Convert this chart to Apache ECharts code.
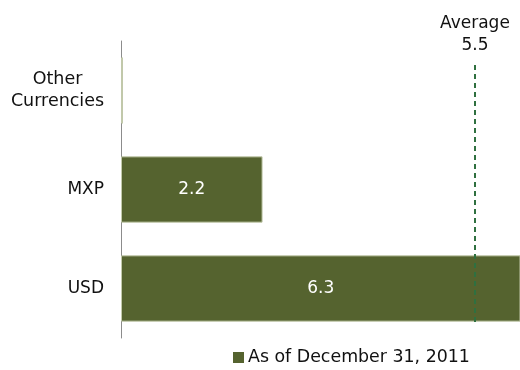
<!DOCTYPE html>
<html>
<head>
<meta charset="utf-8">
<script src="https://cdn.jsdelivr.net/npm/echarts@6/dist/echarts.min.js"></script>
<style>
  html, body { margin: 0; padding: 0; background: #fff; }
  #chart { width: 520px; height: 370px; }
</style>
</head>
<body>
<div id="chart"></div>
<script>
// Currency exposure, bottom-to-top order on the category axis
const categories = ['USD', 'MXP', 'Other Currencies'];
const values = [6.3, 2.2, 0.03];
const seriesName = 'As of December 31, 2011';
const averageValue = 5.5;
const averageTitle = 'Average';

const FONT = 'DejaVu Sans';
const BAR = '#55632f';

const chart = echarts.init(document.getElementById('chart'), null, { renderer: 'canvas' });

chart.setOption({
  animation: false,
  backgroundColor: '#ffffff',
  textStyle: { fontFamily: FONT },
  grid: { left: 121, right: 0, top: 41, bottom: 32, containLabel: false },
  legend: {
    data: [seriesName],
    left: 228,
    top: 344,
    icon: 'rect',
    itemWidth: 11,
    itemHeight: 11,
    itemGap: 5,
    itemStyle: { borderWidth: 0 },
    textStyle: { fontFamily: FONT, fontSize: 17.4, color: '#111', padding: [0, 0, 0, -1] }
  },
  xAxis: {
    type: 'value',
    min: 0,
    max: 6.2,
    show: false,
    splitLine: { show: false }
  },
  yAxis: {
    type: 'category',
    data: categories,
    axisLine: { show: true, lineStyle: { color: '#8c8c8c', width: 1 } },
    axisTick: { show: false },
    axisLabel: {
      fontFamily: FONT,
      fontSize: 17,
      color: '#111',
      margin: 17,
      align: 'right',
      formatter: function (v) {
        if (v === 'Other Currencies') return '{c|Other}\n{c|Currencies}';
        return v;
      },
      rich: {
        c: { fontFamily: FONT, fontSize: 17.5, color: '#111', width: 93, align: 'center', lineHeight: 22 }
      }
    }
  },
  series: [{
    name: seriesName,
    type: 'bar',
    data: values,
    barCategoryGap: '33%',
    itemStyle: { color: BAR, borderColor: '#c2c9ab', borderWidth: 1 },
    label: {
      show: true,
      position: 'inside',
      color: '#ffffff',
      fontFamily: FONT,
      fontSize: 17,
      formatter: function (p) { return p.value >= 1 ? p.value.toFixed(1) : ''; }
    },
    markLine: {
      symbol: ['none', 'none'],
      silent: true,
      z: 10,
      lineStyle: { color: '#2f7040', type: [5, 4], width: 2 },
      label: {
        show: true,
        position: 'end',
        distance: 8,
        formatter: averageTitle + '\n' + averageValue.toFixed(1),
        color: '#111',
        fontFamily: FONT,
        fontSize: 17,
        lineHeight: 22
      },
      data: [[
        { xAxis: averageValue, y: 322 },
        { xAxis: averageValue, y: 65 }
      ]]
    }
  }]
});
</script>
</body>
</html>
